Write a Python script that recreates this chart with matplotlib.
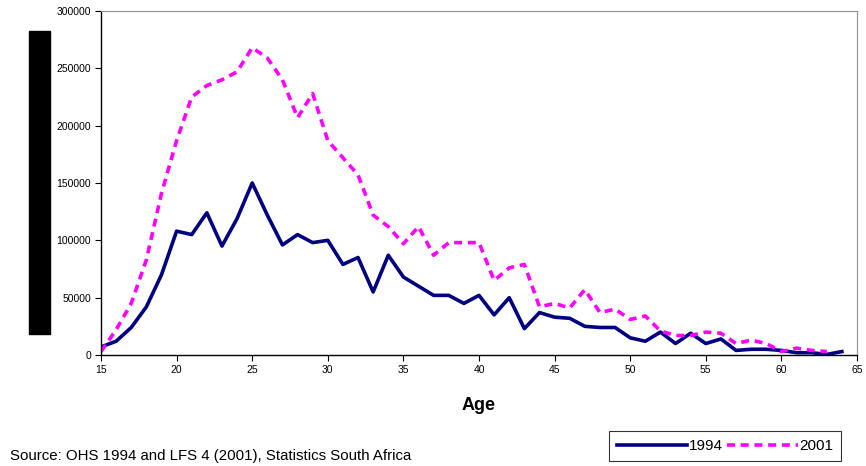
import matplotlib
matplotlib.use("Agg")
import matplotlib.pyplot as plt
from matplotlib.patches import Rectangle

plt.rcParams["font.family"] = ["Liberation Sans", "DejaVu Sans"]

# Ages (single years) and counts
ages_1994 = list(range(15, 65))
vals_1994 = [7000, 12000, 24000, 42000, 70000, 108000, 105000, 124000, 95000, 119000,
             150000, 122000, 96000, 105000, 98000, 100000, 79000, 85000, 55000, 87000,
             68000, 60000, 52000, 52000, 45000, 52000, 35000, 50000, 23000, 37000,
             33000, 32000, 25000, 24000, 24000, 15000, 12000, 20000, 10000, 19000,
             10000, 14000, 4000, 5000, 5000, 4000, 2000, 2000, 500, 3000]

ages_2001 = list(range(15, 64))
vals_2001 = [3000, 22000, 45000, 83000, 141000, 187000, 225000, 235000, 240000, 247000,
             268000, 259000, 240000, 207000, 228000, 187000, 172000, 157000, 122000, 112000,
             97000, 112000, 87000, 98000, 98000, 98000, 65000, 76000, 79000, 42000,
             45000, 41000, 57000, 37000, 40000, 31000, 34000, 21000, 17000, 17000,
             20000, 19000, 10000, 13000, 10000, 3000, 6000, 4000, 3000]

series_labels = ["1994", "2001"]
x_ticks = list(range(15, 70, 5))
y_ticks = list(range(0, 300001, 50000))

fig = plt.figure(figsize=(8.66, 4.66), dpi=100)
ax = fig.add_axes([101 / 866, 1 - 355 / 466, 756 / 866, 344 / 466])

ax.plot(ages_1994, vals_1994, color="#000080", lw=2.6, solid_joinstyle="round",
        label=series_labels[0])
ax.plot(ages_2001, vals_2001, color="#FF00FF", lw=2.6, dashes=(2.2, 1.6),
        label=series_labels[1])

ax.set_xlim(15, 65)
ax.set_ylim(0, 300000)
ax.set_xticks(x_ticks)
ax.set_yticks(y_ticks)
ax.set_xticklabels([str(t) for t in x_ticks], fontsize=7.5)
ax.set_yticklabels([str(t) for t in y_ticks], fontsize=7.5)
ax.tick_params(direction="out", length=4, width=0.8, pad=3)
ax.spines["top"].set_color("#909090")
ax.spines["right"].set_color("#909090")
for s in ["left", "bottom"]:
    ax.spines[s].set_linewidth(1.0)

ax.set_xlabel("Age", fontsize=13, fontweight="bold", labelpad=16)

# obscured y-axis title block
fig.patches.append(Rectangle((29 / 866, 1 - 334 / 466), 21 / 866, 303 / 466,
                             transform=fig.transFigure, color="black"))

fig.text(10 / 866, 1 - 456 / 466, "Source: OHS 1994 and LFS 4 (2001), Statistics South Africa",
         fontsize=10.8, va="center", ha="left")

leg = fig.legend(loc="center", bbox_to_anchor=(725 / 866, 1 - 446 / 466), ncol=2,
                 fontsize=11, handlelength=4.6, handletextpad=0.1, columnspacing=0.3,
                 frameon=True, fancybox=False, borderpad=0.5, borderaxespad=0)
leg.get_frame().set_edgecolor("black")
leg.get_frame().set_linewidth(0.8)

fig.savefig("out.png", dpi=100)
